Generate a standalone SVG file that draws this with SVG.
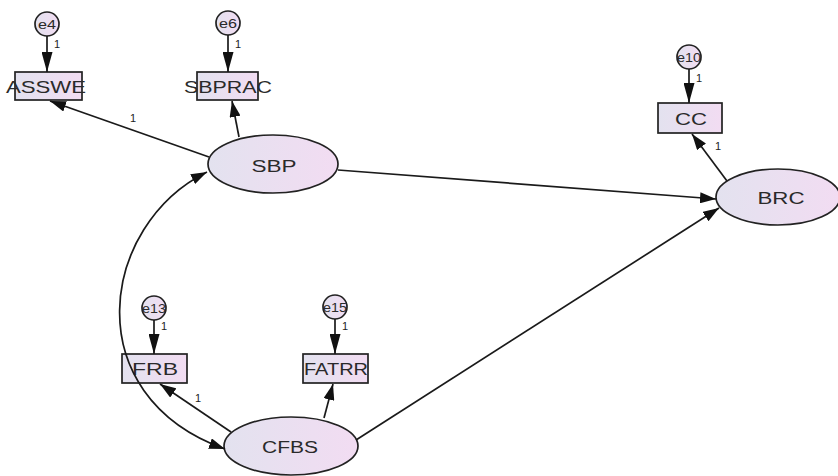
<svg xmlns="http://www.w3.org/2000/svg" width="838" height="476" viewBox="0 0 838 476">
<defs>
<linearGradient id="g" x1="0" y1="0" x2="1" y2="0">
<stop offset="0" stop-color="#e3e2ef"/>
<stop offset="1" stop-color="#f2dcf2"/>
</linearGradient>
<marker id="ah" viewBox="0 0 16 11" refX="16" refY="5.5" markerWidth="16" markerHeight="11" markerUnits="userSpaceOnUse" orient="auto-start-reverse">
<path d="M0,0 L16,5.5 L0,11 Z" fill="#111"/>
</marker>
<marker id="ahs" viewBox="0 0 20 11" refX="20" refY="5.5" markerWidth="20" markerHeight="11" markerUnits="userSpaceOnUse" orient="auto">
<path d="M0,0 L20,5.5 L0,11 Z" fill="#111"/>
</marker>
<style>
.lat{fill:url(#g);stroke:#222;stroke-width:1.7}
.obs{fill:url(#g);stroke:#222;stroke-width:1.7}
.err{fill:url(#g);stroke:#222;stroke-width:1.7}
.t{font-family:"Liberation Sans",Arial,sans-serif;fill:#2a2a2a;text-anchor:middle}
.lt{font-size:16px}
.bt{font-size:17px}
.et{font-size:13px}
.w{font-family:"Liberation Sans",Arial,sans-serif;fill:#222;font-size:11px}
.c{fill:none;stroke:#1a1a1a;stroke-width:1.7}
</style>
</defs>
<rect width="838" height="476" fill="#fff"/>
<g id="SBP"><ellipse class="lat" cx="273" cy="164" rx="65" ry="29"/><text class="t lt" x="274" y="172" textLength="45" lengthAdjust="spacingAndGlyphs">SBP</text></g>
<g id="BRC"><ellipse class="lat" cx="778" cy="197" rx="62" ry="28"/><text class="t lt" x="781" y="204" textLength="47" lengthAdjust="spacingAndGlyphs">BRC</text></g>
<g id="CFBS"><ellipse class="lat" cx="291" cy="446" rx="67" ry="29"/><text class="t lt" x="290" y="453" textLength="56" lengthAdjust="spacingAndGlyphs">CFBS</text></g>
<g id="ASSWE"><rect class="obs" x="15" y="72" width="67" height="28"/><text class="t bt" x="46" y="93" textLength="80" lengthAdjust="spacingAndGlyphs">ASSWE</text></g>
<g id="SBPRAC"><rect class="obs" x="197" y="72" width="61" height="28"/><text class="t bt" x="228" y="93" textLength="88" lengthAdjust="spacingAndGlyphs">SBPRAC</text></g>
<g id="CC"><rect class="obs" x="658" y="103" width="64" height="30"/><text class="t bt" x="691" y="125" textLength="32" lengthAdjust="spacingAndGlyphs">CC</text></g>
<g id="FRB"><rect class="obs" x="122" y="354" width="65" height="29"/><text class="t bt" x="155" y="375" textLength="46" lengthAdjust="spacingAndGlyphs">FRB</text></g>
<g id="FATRR"><rect class="obs" x="303" y="354" width="65" height="29"/><text class="t bt" x="336" y="375" textLength="64" lengthAdjust="spacingAndGlyphs">FATRR</text></g>
<g id="e4"><circle class="err" cx="47" cy="24" r="12"/><text class="t et" x="47" y="29" textLength="18" lengthAdjust="spacingAndGlyphs">e4</text></g>
<g id="e6"><circle class="err" cx="228" cy="23" r="12"/><text class="t et" x="228" y="28" textLength="18" lengthAdjust="spacingAndGlyphs">e6</text></g>
<g id="e10"><circle class="err" cx="689" cy="57" r="12"/><text class="t et" x="689" y="62" textLength="24" lengthAdjust="spacingAndGlyphs">e10</text></g>
<g id="e13"><circle class="err" cx="154" cy="308" r="12"/><text class="t et" x="154" y="313" textLength="24" lengthAdjust="spacingAndGlyphs">e13</text></g>
<g id="e15"><circle class="err" cx="335" cy="307" r="12"/><text class="t et" x="335" y="312" textLength="24" lengthAdjust="spacingAndGlyphs">e15</text></g>
<g id="connectors">
<path class="c" d="M209,157 L50,101" marker-end="url(#ah)"/>
<path class="c" d="M239,137 L232,101" marker-end="url(#ah)"/>
<path class="c" d="M338,170 L716,199" marker-end="url(#ah)"/>
<path class="c" d="M356,440 L719,208" marker-end="url(#ah)"/>
<path class="c" d="M727,181 L692,134" marker-end="url(#ah)"/>
<path class="c" d="M231,432 L160,384" marker-end="url(#ah)"/>
<path class="c" d="M324,418 L333,384" marker-end="url(#ah)"/>
<path class="c" d="M207,172 C100,225 75,395 225,449" marker-start="url(#ah)" marker-end="url(#ah)"/>
<path class="c" d="M47,36 L47,72" marker-end="url(#ahs)"/>
<path class="c" d="M228,35 L228,72" marker-end="url(#ahs)"/>
<path class="c" d="M689,69 L689,103" marker-end="url(#ahs)"/>
<path class="c" d="M154,320 L154,354" marker-end="url(#ahs)"/>
<path class="c" d="M335,319 L335,354" marker-end="url(#ahs)"/>
<text class="w" x="130" y="122">1</text>
<text class="w" x="195" y="402">1</text>
<text class="w" x="715" y="150">1</text>
<text class="w" x="54" y="48">1</text>
<text class="w" x="235" y="48">1</text>
<text class="w" x="696" y="82">1</text>
<text class="w" x="161" y="330">1</text>
<text class="w" x="342" y="330">1</text>
</g>
</svg>
